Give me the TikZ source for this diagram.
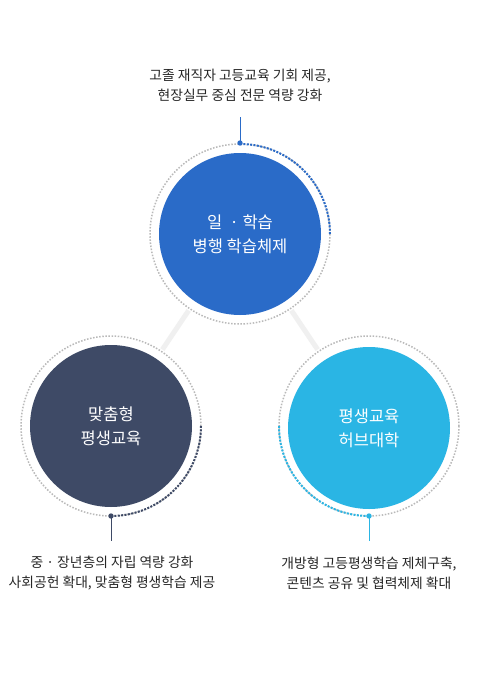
\documentclass[tikz,border=0pt]{standalone}
\usepackage{fontspec}
\setmainfont{Noto Sans CJK KR}
\begin{document}
\begin{tikzpicture}[x=1pt,y=-1pt,
  ring/.style={draw=gray!55, line width=1.5pt, dash pattern=on 1.5pt off 1.6pt},
  arcdots/.style={line width=2pt, dash pattern=on 2pt off 1.4pt},
  disc/.style={circle, minimum size=162pt, inner sep=0pt, text=white, align=center, font=\fontsize{16.5}{24}\selectfont},
  desc/.style={align=center, text=black!85, font=\fontsize{13.8}{20}\selectfont},
  link/.style={draw=black!6, line width=5pt},
  tick/.style={line width=1pt}]
\definecolor{cblue}{HTML}{2A6BC8}
\definecolor{cnavy}{HTML}{3E4A66}
\definecolor{csky}{HTML}{2AB5E4}
\useasboundingbox[fill=white] (0,0) rectangle (480,680);
% centres
\coordinate (ct) at (240,234);
\coordinate (cl) at (111,426);
\coordinate (cr) at (369,426);
% links
\draw[link] (ct) -- (cl);
\draw[link] (ct) -- (cr);
% white gaps around rings
\fill[white] (ct) circle (92);
\fill[white] (cl) circle (92);
\fill[white] (cr) circle (92);
% rings
\draw[ring] (ct) circle (90);
\draw[ring] (cl) circle (90);
\draw[ring] (cr) circle (90);
% coloured arcs (y axis points down, so angles run clockwise)
\draw[arcdots, draw=cblue] ([shift={(-90:90)}]ct) arc[start angle=-90, end angle=0, radius=90];
\draw[arcdots, draw=cnavy] ([shift={(90:90)}]cl) arc[start angle=90, end angle=0, radius=90];
\draw[arcdots, draw=csky] ([shift={(90:90)}]cr) arc[start angle=90, end angle=180, radius=90];
% discs
\node[disc, fill=cblue] (nt) at (ct) {일 \ · 학습\\병행 학습체제};
\node[disc, fill=cnavy] (nl) at (cl) {맞춤형\\평생교육};
\node[disc, fill=csky] (nr) at ([yshift=-2]cr) {평생교육\\허브대학};
% anchor dots
\coordinate (dt) at (240,143);
\coordinate (dl) at (111,516);
\coordinate (dr) at (369,516);
\coordinate (et) at (240,117);
\coordinate (el) at (111,541);
\coordinate (er) at (369,541);
\draw[tick, draw=cblue] (et) -- (dt);
\draw[tick, draw=cnavy] (dl) -- (el);
\draw[tick, draw=csky] (dr) -- (er);
\fill[cblue] (dt) circle (2.7);
\fill[cnavy] (dl) circle (2.7);
\fill[csky] (dr) circle (2.7);
% descriptions
\node[desc] (tt) at (240,85) {고졸 재직자 고등교육 기회 제공,\\현장실무 중심 전문 역량 강화};
\node[desc] (tl) at (112,573) {중 · 장년층의 자립 역량 강화\\사회공헌 확대, 맞춤형 평생학습 제공};
\node[desc] (tr) at (369,573) {개방형 고등평생학습 제체구축,\\콘텐츠 공유 및 협력체제 확대};
\end{tikzpicture}
\end{document}
